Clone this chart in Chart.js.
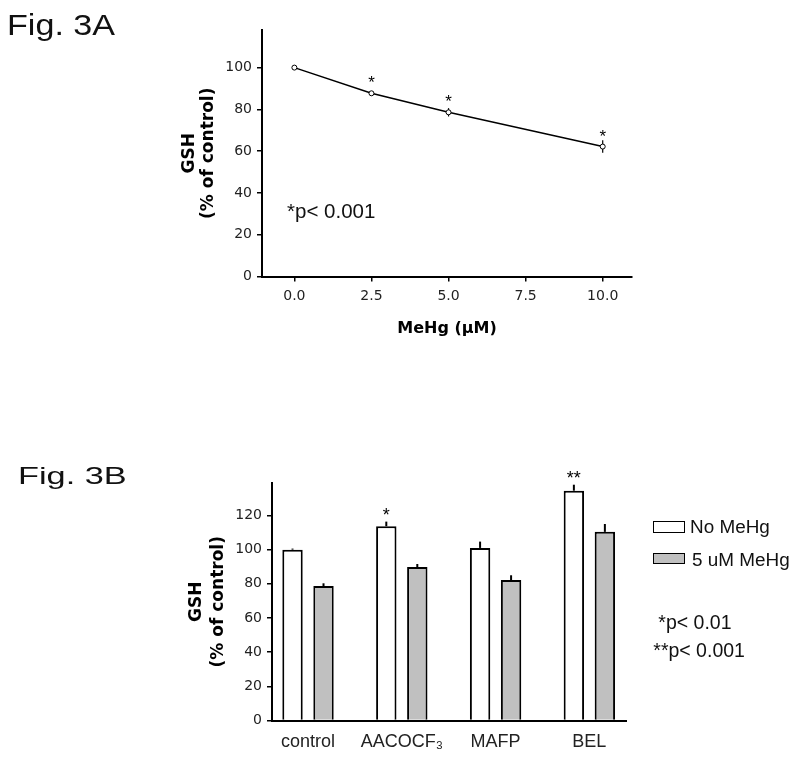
<!DOCTYPE html>
<html><head><meta charset="utf-8">
<script src="https://cdn.jsdelivr.net/npm/chart.js@4/dist/chart.umd.min.js"></script>
<style>
html,body{margin:0;padding:0;background:#fff;}
body{width:800px;height:765px;position:relative;overflow:hidden;font-family:"Liberation Sans",Arial,sans-serif;color:#111;}
.abs{position:absolute;white-space:nowrap;line-height:1;transform-origin:0 0;}
#wa{position:absolute;left:0;top:0;width:800px;height:360px;}
#wb{position:absolute;left:0;top:440px;width:800px;height:325px;}
.box{position:absolute;box-sizing:border-box;width:32px;height:12px;border:1.5px solid #000;}
</style></head><body>
<div id="wa"><canvas id="ca"></canvas></div>
<div id="wb"><canvas id="cb"></canvas></div>
<div class="abs" style="left:7px;top:10px;font-size:30px;transform:scaleX(1.137);">Fig. 3A</div>
<div class="abs" style="left:18px;top:464px;font-size:24.5px;transform:scaleX(1.40);">Fig. 3B</div>
<div class="abs" style="left:287px;top:200.5px;font-size:20.5px;">*p&lt; 0.001</div>
<div class="box" style="left:652.7px;top:520.7px;background:#fff;"></div>
<div class="box" style="left:652.7px;top:553.3px;height:11px;background:#c0c0c0;"></div>
<div class="abs" style="left:690px;top:518.3px;font-size:18px;transform:scaleX(1.05);">No MeHg</div>
<div class="abs" style="left:691.7px;top:551px;font-size:18px;transform:scaleX(1.05);">5 uM MeHg</div>
<div class="abs" style="left:658.3px;top:612.5px;font-size:19.5px;">*p&lt; 0.01</div>
<div class="abs" style="left:653.3px;top:640.8px;font-size:19.5px;">**p&lt; 0.001</div>
<script>
// ---- Fig. 3A data ----
const doseA = [0, 2.5, 5, 10];
const gshA = [100, 87.7, 78.6, 62.2];
const errA = [0.4, 1.0, 2.0, 3.0];
const sigA = ['', '*', '*', '*'];
const xTicksA = [0, 2.5, 5, 7.5, 10];
const yTicksA = [0, 20, 40, 60, 80, 100];

// ---- Fig. 3B data ----
const catsB = ['control', 'AACOCF\u2083', 'MAFP', 'BEL'];
const noMeHg = [100, 113.7, 101, 134.5];
const noMeHgErr = [0.6, 2.7, 3.7, 3.5];
const meHg5 = [78.7, 89.8, 82.2, 110.4];
const meHg5Err = [1.6, 1.8, 2.8, 4.6];
const sigB = ['', '*', '', '**'];
const yTicksB = [0, 20, 40, 60, 80, 100, 120];

const tickFont = {family: '"DejaVu Sans", sans-serif', size: 14};
const titleFam = '"DejaVu Sans", sans-serif';

const errPluginA = {
  id: 'errA',
  beforeDatasetsDraw(chart) {
    const {ctx, scales: {x, y}} = chart;
    ctx.save();
    ctx.strokeStyle = '#000'; ctx.lineWidth = 1.2;
    doseA.forEach((d, i) => {
      const px = x.getPixelForValue(d);
      ctx.beginPath();
      ctx.moveTo(px, y.getPixelForValue(gshA[i] + errA[i]));
      ctx.lineTo(px, y.getPixelForValue(gshA[i] - errA[i]));
      ctx.stroke();
    });
    ctx.restore();
  },
  afterDatasetsDraw(chart) {
    const {ctx, scales: {x, y}} = chart;
    ctx.save();
    ctx.fillStyle = '#000';
    ctx.font = '17px "Liberation Sans", Arial, sans-serif';
    ctx.textAlign = 'center'; ctx.textBaseline = 'alphabetic';
    doseA.forEach((d, i) => {
      if (sigA[i]) ctx.fillText(sigA[i], x.getPixelForValue(d), y.getPixelForValue(gshA[i]) - 5);
    });
    ctx.restore();
  }
};

new Chart(document.getElementById('ca'), {
  type: 'scatter',
  data: {datasets: [{
    data: doseA.map((d, i) => ({x: d, y: gshA[i]})),
    showLine: true, borderColor: '#000', borderWidth: 1.5, tension: 0,
    pointRadius: 2.5, pointBorderWidth: 1, pointBackgroundColor: '#fff', pointBorderColor: '#000'
  }]},
  options: {
    responsive: true, maintainAspectRatio: false, animation: false,
    layout: {padding: {left: 180.5, right: 168, top: 30, bottom: 21.4}},
    plugins: {legend: {display: false}, tooltip: {enabled: false}},
    scales: {
      x: {
        type: 'linear', min: -1.05, max: 10.95, bounds: 'data', offset: false,
        afterBuildTicks: s => { s.ticks = xTicksA.map(v => ({value: v})); },
        afterFit: s => { s.height = 62.1; },
        grid: {drawOnChartArea: false, drawTicks: true, tickLength: 5, color: '#000', lineWidth: 1.5, offset: false},
        border: {display: true, color: '#000', width: 2},
        ticks: {color: '#222', font: tickFont, padding: 6, maxRotation: 0, autoSkip: false,
                callback: v => Number(v).toFixed(1)},
        title: {display: true, text: 'MeHg (\u00B5M)', color: '#000',
                font: {family: titleFam, size: 16, weight: 'bold', lineHeight: 1.2}, padding: 0}
      },
      y: {
        min: 0, max: 118, bounds: 'data',
        afterBuildTicks: s => { s.ticks = yTicksA.map(v => ({value: v})); },
        afterFit: s => { s.width = 81.5; },
        grid: {drawOnChartArea: false, drawTicks: true, tickLength: 5, color: '#000', lineWidth: 1.5},
        border: {display: true, color: '#000', width: 2},
        ticks: {color: '#222', font: tickFont, padding: 5},
        title: {display: true, text: ['GSH', '(% of control)'], color: '#000',
                font: {family: titleFam, size: 17, weight: 'bold', lineHeight: 1.118}, padding: 0}
      }
    }
  },
  plugins: [errPluginA]
});

const errPluginB = {
  id: 'errB',
  afterDatasetsDraw(chart) {
    const {ctx, scales: {y}} = chart;
    const vals = [noMeHg, meHg5], errs = [noMeHgErr, meHg5Err];
    ctx.save();
    ctx.strokeStyle = '#000'; ctx.lineWidth = 2;
    vals.forEach((arr, d) => {
      const meta = chart.getDatasetMeta(d);
      arr.forEach((v, i) => {
        const el = meta.data[i];
        const top = y.getPixelForValue(v + errs[d][i]);
        ctx.beginPath(); ctx.moveTo(el.x, el.y); ctx.lineTo(el.x, top); ctx.stroke();
        if (d === 0 && sigB[i]) {
          ctx.fillStyle = '#000';
          ctx.font = '18px "Liberation Sans", Arial, sans-serif';
          ctx.textAlign = 'center'; ctx.textBaseline = 'alphabetic';
          ctx.fillText(sigB[i], el.x, top - 1);
        }
      });
    });
    ctx.restore();
  }
};

new Chart(document.getElementById('cb'), {
  type: 'bar',
  data: {datasets: [
    {label: 'No MeHg', data: noMeHg.map((v, i) => ({x: i, y: v})),
     backgroundColor: '#fff', borderColor: '#000', borderWidth: 2,
     categoryPercentage: 0.661, barPercentage: 0.658},
    {label: '5 uM MeHg', data: meHg5.map((v, i) => ({x: i, y: v})),
     backgroundColor: '#c0c0c0', borderColor: '#000', borderWidth: 2,
     categoryPercentage: 0.661, barPercentage: 0.658}
  ]},
  options: {
    responsive: true, maintainAspectRatio: false, animation: false,
    layout: {padding: {left: 186, right: 173.3, top: 43, bottom: 0}},
    plugins: {legend: {display: false}, tooltip: {enabled: false}},
    scales: {
      x: {
        type: 'linear', min: -0.384, max: 3.398, bounds: 'data', offset: false,
        afterBuildTicks: s => { s.ticks = catsB.map((c, i) => ({value: i})); },
        afterFit: s => { s.height = 44.5; },
        grid: {display: false, drawTicks: false, offset: false},
        border: {display: true, color: '#000', width: 2},
        ticks: {color: '#222', font: {family: '"Liberation Sans", Arial, sans-serif', size: 18},
                padding: 11, maxRotation: 0, autoSkip: false,
                callback: v => (catsB[v] !== undefined ? catsB[v] : '')}
      },
      y: {
        min: 0, max: 139, bounds: 'data', beginAtZero: true,
        afterBuildTicks: s => { s.ticks = yTicksB.map(v => ({value: v})); },
        afterFit: s => { s.width = 86; },
        grid: {drawOnChartArea: false, drawTicks: true, tickLength: 5, color: '#000', lineWidth: 1.5},
        border: {display: true, color: '#000', width: 2},
        ticks: {color: '#222', font: tickFont, padding: 5},
        title: {display: true, text: ['GSH', '(% of control)'], color: '#000',
                font: {family: titleFam, size: 17, weight: 'bold', lineHeight: 1.294}, padding: 0}
      }
    }
  },
  plugins: [errPluginB]
});
</script>
</body></html>
